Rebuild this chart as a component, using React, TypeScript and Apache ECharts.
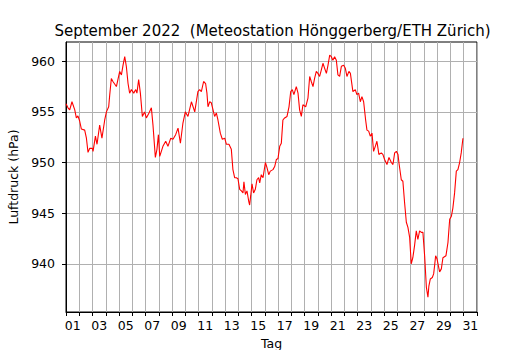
import React, { useEffect, useRef } from "react";
import * as echarts from "echarts";

// time in days since 1 Sep 2022 00:00
const days = [
  0.0, 0.15, 0.28, 0.45, 0.66, 0.78, 0.9, 1.03, 1.16, 1.41, 1.54, 1.66, 1.79, 1.99, 2.04, 2.22, 2.34, 2.54, 2.71, 2.92,
  3.05, 3.22, 3.3, 3.42, 3.54, 3.8, 3.92, 4.05, 4.18, 4.3, 4.43, 4.55, 4.68, 4.8, 4.93, 5.11, 5.26, 5.35, 5.48, 5.61,
  5.76, 5.93, 6.06, 6.26, 6.44, 6.56, 6.74, 6.86, 6.97, 7.07, 7.31, 7.52, 7.69, 7.9, 8.07, 8.27, 8.45, 8.63, 8.82, 9.0,
  9.2, 9.46, 9.71, 9.95, 10.08, 10.21, 10.38, 10.53, 10.63, 10.71, 10.84, 10.96, 11.21, 11.34, 11.46, 11.64, 11.79, 11.97, 12.1, 12.29,
  12.47, 12.59, 12.72, 12.85, 12.97, 13.1, 13.23, 13.35, 13.42, 13.53, 13.65, 13.78, 13.85, 13.93, 14.03, 14.15, 14.28, 14.4, 14.53, 14.61,
  14.73, 14.86, 15.04, 15.16, 15.29, 15.41, 15.61, 15.74, 15.87, 15.99, 16.12, 16.24, 16.36, 16.49, 16.67, 16.82, 16.95, 17.07, 17.19, 17.37,
  17.5, 17.62, 17.75, 17.87, 18.08, 18.25, 18.38, 18.5, 18.63, 18.75, 18.88, 19.0, 19.13, 19.26, 19.38, 19.51, 19.64, 19.76, 19.89, 20.01,
  20.13, 20.26, 20.39, 20.51, 20.64, 20.77, 20.94, 21.07, 21.19, 21.34, 21.45, 21.64, 21.82, 21.94, 22.07, 22.2, 22.32, 22.45, 22.6, 22.7,
  22.83, 22.95, 23.08, 23.2, 23.33, 23.45, 23.6, 23.78, 23.9, 24.03, 24.21, 24.36, 24.54, 24.66, 24.79, 24.92, 25.04, 25.11, 25.29, 25.41,
  25.54, 25.67, 25.79, 25.92, 26.04, 26.16, 26.29, 26.42, 26.54, 26.67, 26.8, 26.92, 27.05, 27.18, 27.3, 27.37, 27.48, 27.63, 27.73, 27.8,
  27.88, 27.98, 28.18, 28.31, 28.43, 28.66, 28.81, 28.94, 29.07, 29.18, 29.31, 29.44, 29.56, 29.69, 29.81, 29.94,
];

// air pressure in hPa
const pressure = [
  955.8, 955.4, 955.2, 956.0, 955.2, 954.4, 954.6, 954.1, 953.3, 953.2, 952.4, 951.0, 951.4, 951.4, 951.1, 952.6, 951.8, 953.7, 952.4, 954.2,
  955.0, 955.5, 956.7, 958.3, 958.0, 957.5, 958.2, 959.0, 958.65, 959.6, 960.45, 959.5, 957.8, 956.85, 957.2, 956.85, 957.2, 956.85, 958.2, 956.85,
  954.55, 955.0, 954.4, 954.9, 955.4, 953.7, 950.5, 951.3, 952.75, 950.6, 951.6, 952.1, 951.6, 952.4, 952.3, 952.75, 953.4, 951.9, 953.9, 955.0,
  954.55, 956.0, 955.0, 957.0, 957.2, 957.0, 958.0, 957.8, 956.85, 955.5, 956.0, 955.9, 954.55, 954.9, 954.2, 952.9, 952.3, 952.4, 951.8, 951.8,
  951.3, 949.3, 948.5, 948.5, 948.4, 947.35, 947.2, 947.0, 948.1, 946.85, 947.2, 946.2, 945.8, 946.7, 947.9, 947.0, 947.35, 948.3, 948.5, 948.0,
  948.8, 948.5, 950.0, 949.5, 948.8, 949.15, 949.3, 949.6, 950.3, 950.4, 951.6, 951.9, 954.2, 954.4, 954.55, 955.5, 957.0, 957.2, 956.7, 957.5,
  956.85, 955.2, 954.55, 955.7, 955.5, 956.35, 958.5, 958.0, 957.5, 958.3, 959.0, 958.8, 958.5, 959.15, 959.8, 959.3, 958.8, 959.6, 960.6, 960.45,
  960.1, 960.45, 960.1, 958.65, 958.5, 959.5, 959.6, 959.3, 958.5, 959.0, 958.8, 957.0, 957.2, 956.7, 956.85, 956.0, 956.5, 956.0, 954.2, 953.2,
  953.1, 952.6, 952.9, 951.1, 951.6, 952.1, 950.8, 950.95, 950.8, 950.3, 949.8, 950.5, 950.0, 949.8, 950.95, 951.1, 950.8, 950.0, 948.3, 948.15,
  946.0, 944.1, 943.6, 942.6, 940.0, 940.6, 941.8, 943.25, 942.4, 943.25, 943.1, 943.1, 940.8, 937.7, 936.7, 937.8, 938.5, 938.65, 939.0, 939.8,
  940.8, 940.5, 939.2, 939.5, 940.6, 940.8, 942.1, 944.4, 944.7, 945.5, 947.0, 949.15, 949.3, 950.0, 950.95, 952.4,
];

const yTicks = [940, 945, 950, 955, 960];
const dayLabelPositions = [0.5, 2.5, 4.5, 6.5, 8.5, 10.5, 12.5, 14.5, 16.5, 18.5, 20.5, 22.5, 24.5, 26.5, 28.5, 30.5];
const dayLabels = ["01", "03", "05", "07", "09", "11", "13", "15", "17", "19", "21", "23", "25", "27", "29", "31"];

const FONT = "DejaVu Sans";

export default function App() {
  const ref = useRef<HTMLDivElement>(null);
  useEffect(() => {
    if (!ref.current) return;
    const chart = echarts.init(ref.current, null, { renderer: "svg" });
    const data = days.map((d, i) => [d, pressure[i]]);
    chart.setOption({
      animation: false,
      backgroundColor: "#ffffff",
      title: {
        text: "September 2022  (Meteostation Hönggerberg/ETH Zürich)",
        left: 267.5,
        top: 18,
        textAlign: "center",
        textStyle: { fontFamily: FONT, fontSize: 15, fontWeight: "normal", color: "#000" },
      },
      grid: {
        left: 66,
        right: 53,
        top: 42,
        bottom: 38,
        containLabel: false,
        outerBoundsMode: "none",
        show: true,
        borderColor: "#000",
        borderWidth: 1,
        backgroundColor: "transparent",
      },
      xAxis: {
        type: "value",
        min: 0,
        max: 31,
        interval: 1,
        name: "Tag",
        nameLocation: "middle",
        nameGap: 21,
        nameTextStyle: { fontFamily: FONT, fontSize: 12.5, color: "#000" },
        axisLine: { show: true, lineStyle: { color: "#000", width: 1 } },
        axisTick: { show: true, length: 4, lineStyle: { color: "#000", width: 1 } },
        axisLabel: {
          customValues: dayLabelPositions,
          formatter: (v: number) => {
            const i = dayLabelPositions.indexOf(v);
            return i >= 0 ? dayLabels[i] : "";
          },
          fontFamily: FONT,
          fontSize: 12.5,
          color: "#000",
          margin: 7,
        },
        splitLine: { show: true, lineStyle: { color: "#b0b0b0", width: 1 } },
      },
      yAxis: {
        type: "value",
        min: 935.24,
        max: 961.9,
        name: "Luftdruck (hPa)",
        nameLocation: "middle",
        nameGap: 36,
        nameTextStyle: { fontFamily: FONT, fontSize: 12.5, color: "#000" },
        axisLine: { show: true, lineStyle: { color: "#000", width: 1 } },
        axisTick: { show: true, length: 4, customValues: yTicks, lineStyle: { color: "#000", width: 1 } },
        axisLabel: {
          customValues: yTicks,
          fontFamily: FONT,
          fontSize: 12.5,
          color: "#000",
          margin: 11,
        },
        splitLine: { show: true, lineStyle: { color: "#b0b0b0", width: 1 } },
      },
      series: [
        {
          type: "line",
          data,
          showSymbol: false,
          lineStyle: { color: "#ff0000", width: 1.1 },
          itemStyle: { color: "#ff0000" },
        },
      ],
    });
    return () => chart.dispose();
  }, []);
  return (
    <div
      ref={ref}
      style={{ position: "fixed", left: 0, top: 0, width: 530, height: 350, background: "#fff" }}
    />
  );
}
